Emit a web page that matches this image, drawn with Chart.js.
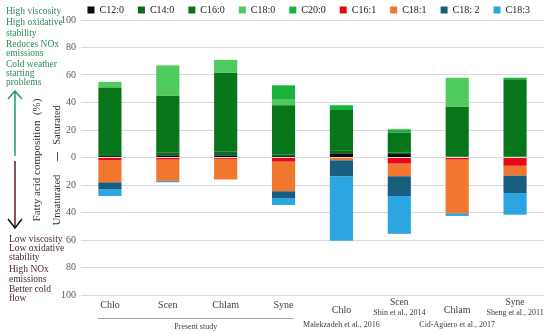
<!DOCTYPE html>
<html>
<head>
<meta charset="utf-8">
<script src="https://cdn.jsdelivr.net/npm/chart.js@4"></script>
<style>
  html, body { margin: 0; padding: 0; background: #fff; }
  #wrap { width: 550px; height: 334px; }
</style>
</head>
<body>
<div id="wrap"><canvas id="faChart" width="550" height="334"></canvas></div>
<script>
// categories (bars), with the reference shown under each one
const species = ["Chlo", "Scen", "Chlam", "Syne", "Chlo", "Scen", "Chlam", "Syne"];
const sources = ["", "", "", "", "Malekzadeh et al., 2016", "Shin et al., 2014", "Cid-Agüero et al., 2017", "Sheng et al., 2011"];

// saturated fatty acids (% , drawn upwards)
const c12_0 = [1, 1.5, 1.5, 1, 3, 2.5, 0, 0];
const c14_0 = [1.5, 2, 3, 1, 2, 1, 0.5, 0.5];
const c16_0 = [48.5, 41.5, 57, 36, 29.5, 14.6, 36.5, 56];
const c18_0 = [4, 22, 9.5, 4, 0, 0, 21, 0];
const c20_0 = [0, 0, 0, 10.5, 3.5, 2.4, 0, 1.5];

// unsaturated fatty acids (% , drawn downwards)
const c16_1 = [2, 1.5, 1, 3, 0.5, 4.4, 1.5, 6];
const c18_1 = [16, 15.5, 15, 21.5, 1.5, 9.2, 39, 7];
const c18_2 = [5, 0, 0, 5, 11.6, 14.4, 0, 12.8];
const c18_3 = [5, 1, 0, 5, 47, 27.5, 2, 15.8];

const yTicks = [-100, -90, -80, -70, -60, -50, -40, -30, -20, -10, 0, 10, 20, 30, 40, 50, 60, 70, 80, 90, 100];

const serif = "'Liberation Serif', 'Times New Roman', serif";

const neg = (arr) => arr.map((v) => -v);

const datasets = [
  { label: "C12:0", data: c12_0, backgroundColor: "#0a0a0a" },
  { label: "C14:0", data: c14_0, backgroundColor: "#0b6b1e" },
  { label: "C16:0", data: c16_0, backgroundColor: "#07761b" },
  { label: "C18:0", data: c18_0, backgroundColor: "#4fcb5e" },
  { label: "C20:0", data: c20_0, backgroundColor: "#19b23b" },
  { label: "C16:1", data: neg(c16_1), backgroundColor: "#e50914" },
  { label: "C18:1", data: neg(c18_1), backgroundColor: "#f2772e" },
  { label: "C18: 2", data: neg(c18_2), backgroundColor: "#185e80" },
  { label: "C18:3", data: neg(c18_3), backgroundColor: "#2ca6e0" },
].map((d) => ({ ...d, stack: "fa", borderWidth: 0, barPercentage: 0.5, categoryPercentage: 0.8 }));

// the legend keeps its wide item spacing but takes less height
const tightLegend = {
  id: "tightLegend",
  beforeInit(chart) {
    const fit = chart.legend.fit;
    chart.legend.fit = function () {
      fit.call(this);
      this.height -= 5;
    };
  },
};

// text around the plot: side notes, axis title, arrows and the two-row x labels
const sideText = {
  id: "sideText",
  afterDraw(chart) {
    const ctx = chart.ctx;
    const x = chart.scales.x;
    ctx.save();

    ctx.textBaseline = "middle";
    ctx.textAlign = "left";
    ctx.font = "9.5px " + serif;
    ctx.fillStyle = "#2f8a5a";
    const topNotes = [["High viscosity", 11], ["High oxidative", 22], ["stability", 33], ["Reduces NOx", 44],
      ["emissions", 53], ["Cold weather", 64], ["starting", 73], ["problems", 82]];
    topNotes.forEach(([t, y]) => ctx.fillText(t, 6, y));

    ctx.fillStyle = "#4a2a2a";
    const lowNotes = [["Low viscosity", 239], ["Low oxidative", 248], ["stability", 257], ["High NOx", 269],
      ["emissions", 279], ["Better cold", 289], ["flow", 298]];
    lowNotes.forEach(([t, y]) => ctx.fillText(t, 9, y));

    // arrows
    ctx.lineWidth = 1.5;
    ctx.strokeStyle = "#1f9e6a";
    ctx.beginPath();
    ctx.moveTo(15, 156); ctx.lineTo(15, 91);
    ctx.moveTo(8, 99); ctx.lineTo(15, 91); ctx.lineTo(22, 99);
    ctx.stroke();

    ctx.strokeStyle = "#5a1f1f";
    ctx.beginPath();
    ctx.moveTo(15, 161); ctx.lineTo(15, 228);
    ctx.stroke();
    ctx.strokeStyle = "#111";
    ctx.beginPath();
    ctx.moveTo(8, 219); ctx.lineTo(15, 228); ctx.lineTo(22, 219);
    ctx.stroke();

    // rotated titles
    ctx.fillStyle = "#333";
    ctx.textAlign = "center";
    ctx.save();
    ctx.translate(37, 160);
    ctx.rotate(-Math.PI / 2);
    ctx.font = "11px " + serif;
    ctx.fillText("Fatty acid composition  (%)", 0, 0);
    ctx.restore();

    ctx.save();
    ctx.translate(57, 125);
    ctx.rotate(-Math.PI / 2);
    ctx.font = "10.5px " + serif;
    ctx.fillText("Saturated", 0, 0);
    ctx.restore();

    ctx.save();
    ctx.translate(57, 200);
    ctx.rotate(-Math.PI / 2);
    ctx.font = "10.5px " + serif;
    ctx.fillText("Unsaturated", 0, 0);
    ctx.restore();

    ctx.strokeStyle = "#555";
    ctx.lineWidth = 1;
    ctx.beginPath();
    ctx.moveTo(57.5, 152); ctx.lineTo(57.5, 161);
    ctx.stroke();

    // x labels
    ctx.fillStyle = "#404040";
    species.forEach((name, i) => {
      const px = x.getPixelForValue(i);
      const src = sources[i];
      if (!src) {
        ctx.font = "10px " + serif;
        ctx.fillText(name, px, 305);
      } else if (i % 2 === 1) {
        ctx.font = "9.5px " + serif;
        ctx.fillText(name, px, 302);
        ctx.font = "8px " + serif;
        ctx.fillText(src, px, 313);
      } else {
        ctx.font = "10px " + serif;
        ctx.fillText(name, px, 310);
        ctx.font = "8px " + serif;
        ctx.fillText(src, px, 325);
      }
    });

    const x0 = x.getPixelForValue(0) - 12;
    const x3 = x.getPixelForValue(3) + 10;
    ctx.strokeStyle = "#a6a6a6";
    ctx.beginPath();
    ctx.moveTo(x0, 318.5); ctx.lineTo(x3, 318.5);
    ctx.stroke();
    ctx.font = "8px " + serif;
    ctx.fillText("Present study", (x0 + x3) / 2, 327);

    ctx.restore();
  },
};

const faChart = new Chart(document.getElementById("faChart").getContext("2d"), {
  type: "bar",
  data: { labels: species, datasets: datasets },
  options: {
    responsive: false,
    animation: false,
    layout: { padding: { left: 56, right: 6, top: -9, bottom: 39 } },
    scales: {
      x: { stacked: true, display: false },
      y: {
        stacked: true,
        min: -100,
        max: 100,
        afterBuildTicks: (axis) => { axis.ticks = yTicks.map((v) => ({ value: v })); },
        grid: { color: "#d9d9d9", drawTicks: false },
        border: { display: false },
        ticks: {
          padding: 5,
          color: "#595959",
          font: { family: serif, size: 10 },
          callback: (v) => Math.abs(v),
        },
      },
    },
    plugins: {
      legend: {
        position: "top",
        align: "end",
        labels: {
          boxWidth: 7,
          boxHeight: 7,
          padding: 14,
          color: "#222",
          font: { family: serif, size: 10 },
        },
      },
      tooltip: { enabled: false },
    },
  },
  plugins: [tightLegend, sideText],
});
</script>
</body>
</html>
